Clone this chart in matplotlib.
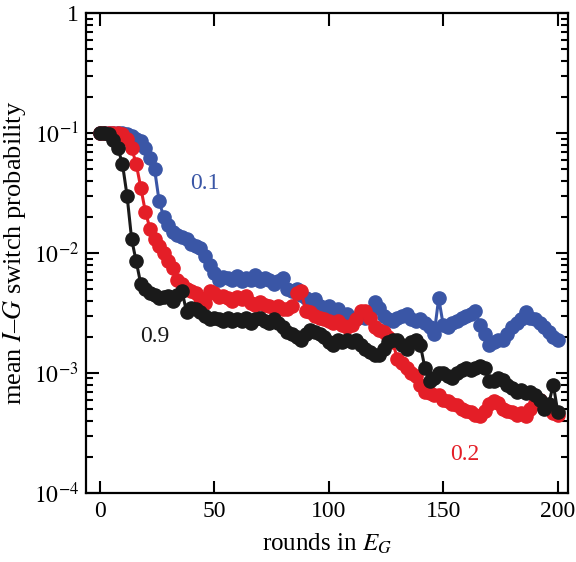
import numpy as np
import matplotlib.pyplot as plt
from matplotlib.ticker import FixedLocator, FixedFormatter, LogLocator, NullFormatter

plt.rcParams['font.family'] = ['Liberation Serif', 'DejaVu Serif']
plt.rcParams['mathtext.fontset'] = 'stix'

rounds = np.arange(0, 201, 2)

# mean switch probability, every 2 rounds
p_01 = [0.1, 0.1, 0.1, 0.1, 0.1, 0.1, 0.098, 0.095, 0.09, 0.085,
        0.075, 0.062, 0.05, 0.027, 0.02, 0.017, 0.015, 0.014, 0.0135, 0.013,
        0.012, 0.0115, 0.011, 0.0095, 0.008, 0.0068, 0.006, 0.0063, 0.0062, 0.006,
        0.0064, 0.0058, 0.0062, 0.006, 0.0065, 0.0058, 0.0062, 0.006, 0.0055, 0.0058,
        0.0062, 0.005, 0.0048, 0.005, 0.0045, 0.0042, 0.0039, 0.0041, 0.0036, 0.0034,
        0.0036, 0.0033, 0.0034, 0.003, 0.0031, 0.0029, 0.0028, 0.003, 0.0029, 0.0032,
        0.0039, 0.0035, 0.003, 0.0028, 0.0027, 0.0029, 0.003, 0.0031, 0.0028, 0.0027,
        0.0028, 0.0026, 0.0024, 0.0021, 0.0042, 0.0025, 0.0024, 0.0026, 0.0027, 0.0029,
        0.003, 0.0031, 0.0033, 0.0025, 0.0021, 0.0017, 0.0018, 0.0019, 0.0019, 0.0021,
        0.0024, 0.0026, 0.0028, 0.0032, 0.0029, 0.0028, 0.0026, 0.0024, 0.0022, 0.002,
        0.0019]

p_02 = [0.1, 0.1, 0.1, 0.1, 0.1, 0.098, 0.09, 0.075, 0.055, 0.035,
        0.022, 0.016, 0.013, 0.0115, 0.01, 0.0085, 0.0075, 0.006, 0.0055, 0.005,
        0.0048, 0.0046, 0.0042, 0.0038, 0.0048, 0.0046, 0.0043, 0.0044, 0.0042, 0.004,
        0.0043, 0.0041, 0.0044, 0.0038, 0.0037, 0.0039, 0.0037, 0.0036, 0.0035, 0.0036,
        0.0034, 0.0034, 0.0036, 0.0046, 0.0048, 0.0033, 0.0032, 0.003, 0.0029, 0.0028,
        0.0027, 0.0026, 0.0027, 0.0025, 0.0024, 0.0025, 0.0028, 0.0033, 0.0033, 0.0029,
        0.0024, 0.0023, 0.0022, 0.002, 0.0018, 0.0013, 0.0012, 0.0011, 0.001, 0.00095,
        0.0008, 0.0007, 0.00068, 0.00065, 0.00066, 0.0006, 0.00058, 0.00055, 0.00054, 0.0005,
        0.00048, 0.00047, 0.00045, 0.00044, 0.00048, 0.00055, 0.00058, 0.00056, 0.0005, 0.00048,
        0.00047, 0.00045, 0.00046, 0.00044, 0.0005, 0.00056, 0.0006, 0.00055, 0.0005, 0.00046,
        0.00045]

p_09 = [0.1, 0.1, 0.098, 0.088, 0.075, 0.055, 0.03, 0.013, 0.0085, 0.0055,
        0.005, 0.0046, 0.0045, 0.0042, 0.0043, 0.0044, 0.004, 0.0045, 0.0048, 0.0032,
        0.0035, 0.0034, 0.0032, 0.003, 0.0028, 0.0029, 0.0028, 0.0027, 0.0029, 0.0027,
        0.0028, 0.0027, 0.0029, 0.0026, 0.0028, 0.0029, 0.0027, 0.0026, 0.0028, 0.0026,
        0.0024, 0.0022, 0.0021, 0.002, 0.0019, 0.0021, 0.0023, 0.0022, 0.0021, 0.002,
        0.0018, 0.0017, 0.0019, 0.0018, 0.0019, 0.0018, 0.0019, 0.0017, 0.0016, 0.0015,
        0.0014, 0.0014, 0.0016, 0.0018, 0.0019, 0.0019, 0.0017, 0.0016, 0.0018, 0.0019,
        0.0017, 0.0011, 0.00085, 0.0009, 0.001, 0.001, 0.00095, 0.0009, 0.001, 0.00105,
        0.0011, 0.00105, 0.0011, 0.00115, 0.0011, 0.00085, 0.00085, 0.0009, 0.00088, 0.0008,
        0.00075, 0.0007, 0.00072, 0.00068, 0.0007, 0.00065, 0.0006, 0.0005, 0.00055, 0.0008,
        0.00047]

series = [('0.1', p_01, '#3a56a6'), ('0.2', p_02, '#e41e27'), ('0.9', p_09, '#1a1a1a')]
label_pos = {'0.1': (46, 0.038), '0.2': (159.5, 0.00021), '0.9': (24, 0.002)}

fig = plt.figure(figsize=(5.76, 5.62), dpi=100)
ax = fig.add_axes([0.149, 0.1228, 0.837, 0.854])

for name, vals, col in series:
    ax.plot(rounds, vals, '-o', color=col, lw=2.2, ms=9.5, mec=col, zorder=2)
    tx, ty = label_pos[name]
    ax.text(tx, ty, name, color=col, fontsize=17, ha='center', va='center')

ax.set_yscale('log')
ax.set_ylim(1e-4, 1)
ax.set_xlim(-6, 204.4)

ax.xaxis.set_major_locator(FixedLocator([0, 50, 100, 150, 200]))
ax.yaxis.set_major_locator(FixedLocator([1e-4, 1e-3, 1e-2, 1e-1, 1]))
ax.yaxis.set_major_formatter(FixedFormatter(['$10^{-4}$', '$10^{-3}$', '$10^{-2}$', '$10^{-1}$', '1']))
ax.yaxis.set_minor_locator(LogLocator(base=10, subs=np.arange(2, 10)))
ax.yaxis.set_minor_formatter(NullFormatter())

ax.tick_params(which='both', direction='in', top=True, right=True, labelsize=17, width=1.5)
ax.tick_params(which='major', length=9)
ax.tick_params(which='minor', length=5)
ax.tick_params(axis='x', pad=6)
ax.tick_params(axis='y', pad=5)
for s in ax.spines.values():
    s.set_linewidth(1.6)

ax.set_xlabel('rounds in $E_G$', fontsize=18, labelpad=7)
ax.set_ylabel('mean $I$–$G$ switch probability', fontsize=19, labelpad=4)

fig.savefig('out.png', dpi=100)
